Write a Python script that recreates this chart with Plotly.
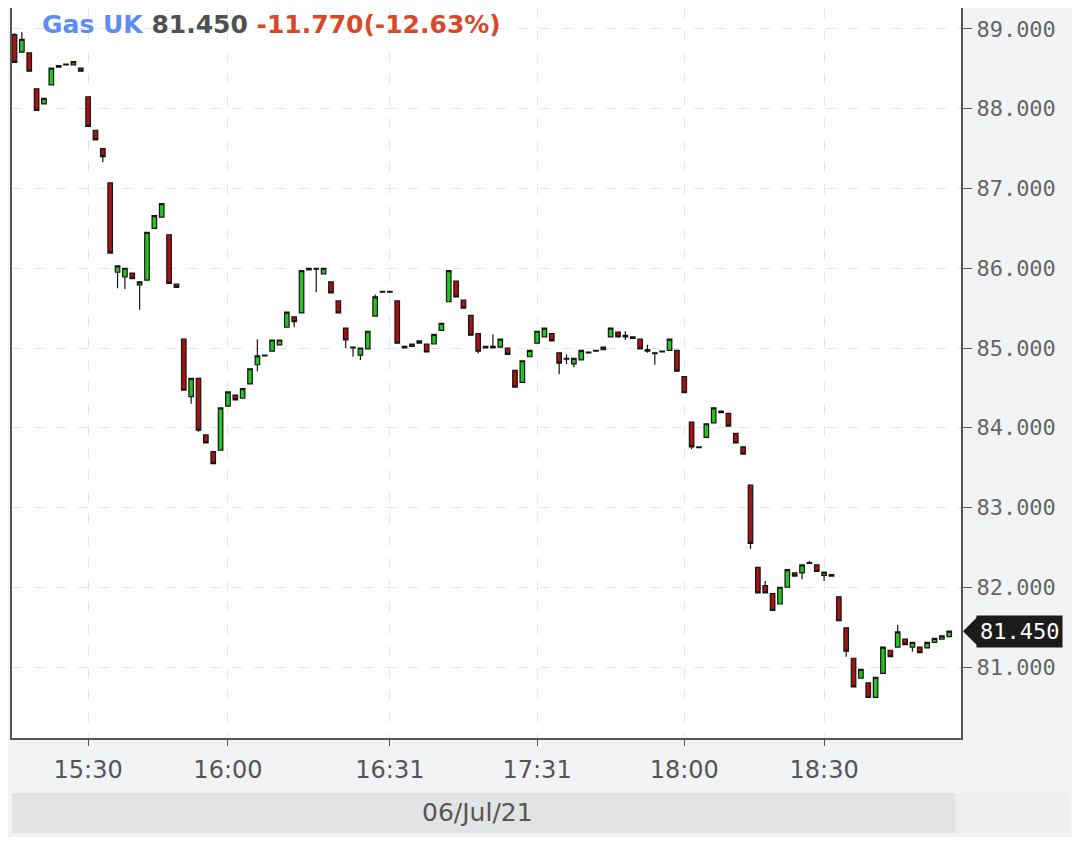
import plotly.graph_objects as go

# candle times (category axis, minutes with no trade are skipped)
TIMES = (
    "15:20 15:21 15:22 15:23 15:24 15:25 15:26 15:27 15:28 15:29 "
    "15:30 15:31 15:33 15:34 15:36 15:37 15:39 15:40 15:42 15:44 "
    "15:45 15:47 15:48 15:50 15:52 15:53 15:55 15:56 15:58 16:00 "
    "16:01 16:02 16:03 16:05 16:06 16:07 16:08 16:10 16:11 16:12 "
    "16:14 16:15 16:16 16:18 16:19 16:20 16:22 16:23 16:25 16:27 "
    "16:29 16:31 16:33 16:36 16:39 16:42 16:45 16:48 16:51 16:54 "
    "16:57 17:00 17:03 17:06 17:09 17:12 17:15 17:18 17:21 17:24 "
    "17:28 17:31 17:32 17:34 17:35 17:37 17:38 17:40 17:41 17:43 "
    "17:44 17:46 17:47 17:49 17:50 17:52 17:53 17:55 17:56 17:57 "
    "17:58 18:00 18:01 18:02 18:04 18:05 18:07 18:08 18:10 18:11 "
    "18:13 18:14 18:16 18:17 18:19 18:21 18:22 18:24 18:26 18:28 "
    "18:30 18:31 18:32 18:33 18:35 18:36 18:37 18:38 18:40 18:41 "
    "18:42 18:43 18:45 18:46 18:47 18:48 18:49 18:50"
).split()

OPEN = [88.93, 88.71, 88.70, 88.25, 88.06, 88.30, 88.52, 88.55, 88.55, 88.51,
        88.15, 87.73, 87.50, 87.07, 85.95, 85.89, 85.94, 85.79, 85.85, 86.50,
        86.64, 86.42, 85.80, 85.11, 84.39, 84.62, 83.91, 83.70, 83.72, 84.27,
        84.41, 84.37, 84.55, 84.79, 84.91, 84.96, 85.04, 85.26, 85.39, 85.44,
        85.98, 86.00, 85.93, 85.83, 85.59, 85.25, 85.01, 84.91, 84.99, 85.40,
        85.71, 85.71, 85.59, 85.02, 85.02, 85.06, 85.05, 85.05, 85.22, 85.58,
        85.84, 85.60, 85.41, 85.18, 85.02, 85.00, 85.01, 85.00, 84.72, 84.57,
        84.89, 85.06, 85.14, 85.18, 84.94, 84.87, 84.80, 84.85, 84.94, 84.96,
        84.98, 85.14, 85.20, 85.16, 85.14, 85.11, 84.98, 84.94, 84.95, 84.97,
        84.97, 84.64, 84.07, 83.76, 83.88, 84.06, 84.21, 84.18, 83.93, 83.76,
        83.28, 82.25, 82.02, 81.92, 81.79, 82.00, 82.18, 82.18, 82.31, 82.28,
        82.15, 82.16, 81.88, 81.49, 81.11, 80.86, 80.80, 80.62, 80.92, 81.21,
        81.25, 81.35, 81.25, 81.25, 81.24, 81.31, 81.35, 81.38]

HIGH = [88.95, 88.96, 88.70, 88.25, 88.13, 88.51, 88.54, 88.56, 88.59, 88.51,
        88.15, 87.73, 87.50, 87.07, 86.03, 86.00, 85.94, 85.83, 86.45, 86.66,
        86.81, 86.42, 85.80, 85.11, 84.62, 84.62, 83.91, 83.70, 84.25, 84.45,
        84.41, 84.49, 84.74, 85.11, 84.91, 85.10, 85.10, 85.45, 85.39, 85.97,
        86.00, 86.00, 86.00, 85.83, 85.59, 85.25, 85.01, 85.00, 85.21, 85.67,
        85.71, 85.71, 85.59, 85.02, 85.05, 85.09, 85.05, 85.17, 85.31, 85.97,
        85.84, 85.60, 85.41, 85.18, 85.02, 85.17, 85.11, 85.00, 84.72, 84.84,
        84.97, 85.21, 85.25, 85.18, 84.94, 84.92, 84.87, 84.97, 84.95, 84.97,
        85.01, 85.25, 85.20, 85.21, 85.14, 85.11, 85.04, 84.94, 84.96, 85.11,
        84.97, 84.64, 84.07, 83.76, 84.05, 84.25, 84.21, 84.18, 83.93, 83.76,
        83.28, 82.25, 82.08, 81.92, 82.00, 82.22, 82.18, 82.28, 82.33, 82.28,
        82.19, 82.16, 81.88, 81.49, 81.11, 80.97, 80.80, 80.87, 81.25, 81.21,
        81.53, 81.35, 81.31, 81.25, 81.31, 81.36, 81.39, 81.45]

LOW = [88.58, 88.71, 88.47, 87.98, 88.06, 88.30, 88.52, 88.55, 88.55, 88.47,
       87.78, 87.61, 87.33, 86.19, 85.75, 85.74, 85.87, 85.48, 85.85, 86.50,
       86.64, 85.81, 85.76, 84.47, 84.30, 83.95, 83.81, 83.55, 83.72, 84.27,
       84.35, 84.37, 84.55, 84.71, 84.90, 84.96, 85.04, 85.26, 85.26, 85.44,
       85.98, 85.70, 85.93, 85.69, 85.44, 85.00, 84.89, 84.85, 84.99, 85.40,
       85.70, 85.70, 85.06, 85.00, 85.02, 85.06, 84.95, 85.05, 85.22, 85.58,
       85.64, 85.50, 85.16, 84.93, 85.00, 85.00, 85.01, 84.92, 84.51, 84.57,
       84.89, 85.06, 85.14, 85.09, 84.67, 84.80, 84.76, 84.85, 84.94, 84.96,
       84.98, 85.14, 85.14, 85.10, 85.12, 84.99, 84.94, 84.79, 84.95, 84.97,
       84.71, 84.44, 83.73, 83.75, 83.88, 84.06, 84.19, 84.02, 83.81, 83.67,
       82.48, 81.93, 81.93, 81.71, 81.79, 82.00, 82.14, 82.10, 82.30, 82.20,
       82.08, 82.14, 81.58, 81.13, 80.75, 80.86, 80.62, 80.62, 80.92, 81.13,
       81.25, 81.28, 81.19, 81.18, 81.24, 81.31, 81.35, 81.38]

CLOSE = [88.58, 88.87, 88.47, 87.98, 88.13, 88.51, 88.54, 88.56, 88.59, 88.47,
         87.78, 87.61, 87.40, 86.19, 86.03, 86.00, 85.87, 85.83, 86.45, 86.66,
         86.81, 85.81, 85.76, 84.47, 84.62, 83.97, 83.81, 83.55, 84.25, 84.45,
         84.35, 84.49, 84.74, 84.90, 84.90, 85.10, 85.10, 85.45, 85.33, 85.97,
         86.00, 85.99, 86.00, 85.69, 85.44, 85.10, 85.00, 85.00, 85.21, 85.64,
         85.70, 85.70, 85.06, 85.00, 85.05, 85.09, 84.95, 85.17, 85.31, 85.97,
         85.64, 85.50, 85.16, 84.96, 85.00, 85.02, 85.11, 84.92, 84.51, 84.84,
         84.97, 85.21, 85.25, 85.09, 84.81, 84.86, 84.87, 84.97, 84.95, 84.97,
         85.01, 85.25, 85.14, 85.14, 85.12, 84.99, 84.96, 84.93, 84.96, 85.11,
         84.71, 84.44, 83.76, 83.75, 84.05, 84.25, 84.19, 84.02, 83.81, 83.67,
         82.55, 81.93, 81.93, 81.71, 82.00, 82.22, 82.14, 82.28, 82.30, 82.20,
         82.19, 82.14, 81.58, 81.20, 80.75, 80.97, 80.62, 80.87, 81.25, 81.13,
         81.44, 81.28, 81.31, 81.18, 81.31, 81.36, 81.39, 81.45]

TICK_TIMES = ["15:30", "16:00", "16:31", "17:31", "18:00", "18:30"]
PRICE_TICKS = [81, 82, 83, 84, 85, 86, 87, 88, 89]

NAME = "Gas UK"
LAST = "81.450"
CHANGE = "-11.770(-12.63%)"
DATE = "06/Jul/21"

green = "#27c322"
red = "#a8120f"
edge = "#151515"
grid = "#e6e6e6"
axis_col = "#555555"

fig = go.Figure(
    go.Candlestick(
        x=TIMES, open=OPEN, high=HIGH, low=LOW, close=CLOSE,
        increasing=dict(fillcolor=green, line=dict(color=edge, width=1.2)),
        decreasing=dict(fillcolor=red, line=dict(color=edge, width=1.2)),
        whiskerwidth=0,
        showlegend=False,
    )
)

# page body adds 8px around the figure, so the figure is sized to fit inside
fig.update_layout(
    width=1072,
    height=829,
    margin=dict(l=4, r=119, t=0, b=99, autoexpand=False),
    paper_bgcolor="#f2f3f5",
    plot_bgcolor="white",
    boxgap=0.12,
    font=dict(family="DejaVu Sans", color=axis_col),
)

fig.update_xaxes(
    type="category",
    range=[-0.34, 128.6],
    rangeslider_visible=False,
    tickmode="array",
    tickvals=TICK_TIMES,
    ticks="outside",
    ticklen=6,
    tickcolor=axis_col,
    ticklabelstandoff=3,
    tickfont=dict(family="DejaVu Sans", size=24, color="#555555"),
    showline=True,
    linecolor=axis_col,
    linewidth=2,
    showgrid=True,
    gridcolor=grid,
    griddash="10px,12px",
    zeroline=False,
)

fig.update_yaxes(
    side="right",
    range=[80.11, 89.263],
    tickmode="array",
    tickvals=PRICE_TICKS,
    tickformat=".3f",
    ticks="outside",
    ticklen=9,
    tickcolor=axis_col,
    tickfont=dict(family="DejaVu Sans Mono", size=22, color="#666666"),
    showline=True,
    mirror=True,
    linecolor=axis_col,
    linewidth=2,
    showgrid=True,
    gridcolor=grid,
    griddash="10px,12px",
    zeroline=False,
)

# title line inside plot
fig.add_annotation(
    xref="paper", yref="paper", x=0.0295, y=1,
    xanchor="left", yanchor="top", showarrow=False,
    text=(f"<b><span style='color:#5b8ef0'>{NAME}</span> "
          f"<span style='color:#505050'>{LAST}</span> "
          f"<span style='color:#d8492a'>{CHANGE}</span></b>"),
    font=dict(family="DejaVu Sans", size=25),
)

# last price marker
fig.add_shape(
    type="path", xref="paper", yref="y",
    xsizemode="pixel", ysizemode="pixel", xanchor=1, yanchor=CLOSE[-1],
    path="M 2 0 L 17 15 L 17 -15 Z",
    fillcolor="#1c1c1c", line=dict(width=0),
)
fig.add_annotation(
    xref="paper", yref="y", x=1, y=CLOSE[-1],
    xanchor="left", yanchor="middle", xshift=15, showarrow=False,
    text=LAST, bgcolor="#1c1c1c", borderpad=3,
    font=dict(family="DejaVu Sans Mono", size=22, color="white"),
)

# date band under the axis
fig.add_shape(type="rect", xref="paper", yref="paper",
              x0=0, x1=0.9937, y0=-0.1301, y1=-0.0753,
              fillcolor="#e2e3e5", line=dict(width=0), layer="below")
fig.add_shape(type="rect", xref="paper", yref="paper",
              x0=0.9937, x1=1.1138, y0=-0.1301, y1=-0.0753,
              fillcolor="#eceef0", line=dict(width=0), layer="below")
fig.add_annotation(
    xref="paper", yref="paper", x=0.491, y=-0.1014,
    xanchor="center", yanchor="middle", showarrow=False,
    text=DATE, font=dict(family="DejaVu Sans", size=25, color="#555555"),
)

fig.write_html("out.html")
